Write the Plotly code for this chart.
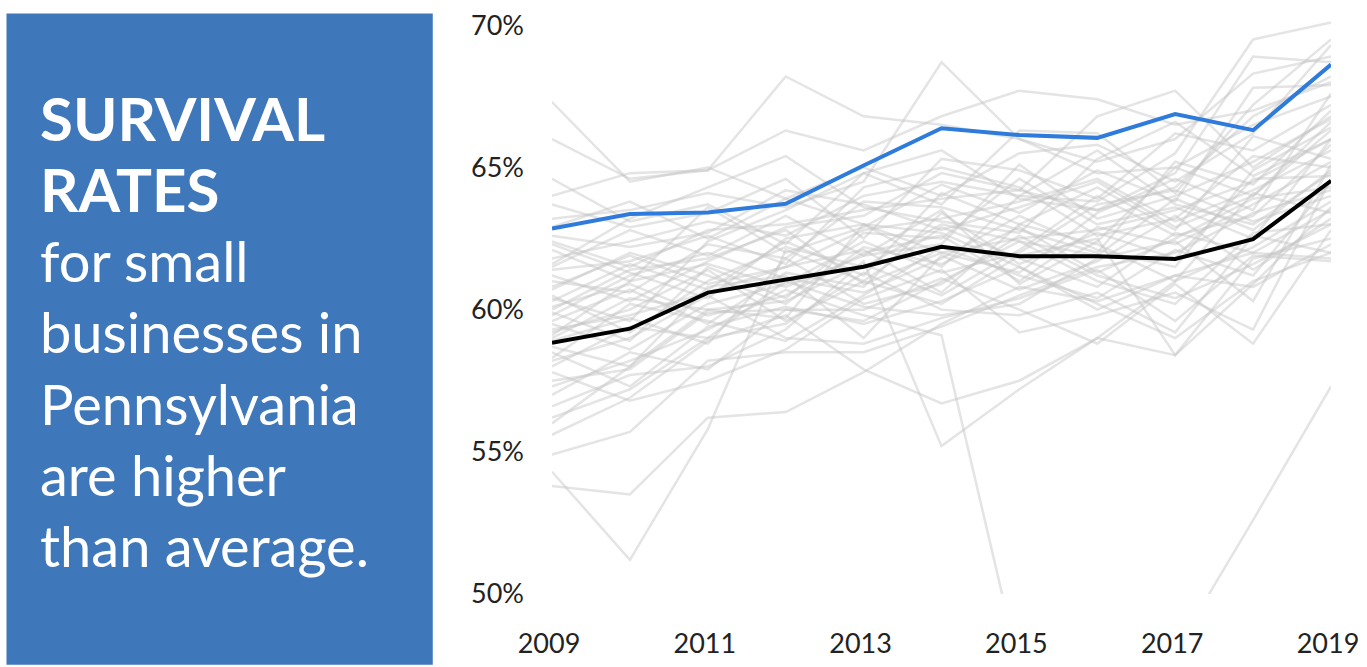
import plotly.graph_objects as go

years = list(range(2009, 2020))

pennsylvania = [62.85, 63.36, 63.42, 63.72, 65.07, 66.38, 66.14, 66.04, 66.88, 66.31, 68.62]
average = [58.83, 59.33, 60.60, 61.04, 61.51, 62.21, 61.88, 61.88, 61.78, 62.48, 64.53]

other_states = [
    [67.3, 64.5, 65.0, 63.9, 63.0, 62.0, 62.5, 62.8, 63.5, 64.5, 66.0],
    [66.0, 64.6, 64.9, 66.3, 65.6, 66.8, 67.7, 67.4, 66.5, 67.0, 68.0],
    [64.0, 64.8, 64.9, 68.2, 66.8, 66.5, 66.0, 65.2, 66.0, 68.3, 68.9],
    [63.2, 63.5, 64.1, 63.6, 64.5, 68.7, 66.0, 64.8, 65.0, 66.5, 67.5],
    [62.4, 61.5, 62.8, 63.0, 63.5, 63.9, 64.2, 66.8, 67.7, 65.0, 66.8],
    [61.8, 62.4, 63.1, 62.6, 64.0, 64.5, 64.0, 63.8, 65.5, 69.5, 70.1],
    [61.2, 60.3, 61.7, 62.9, 63.3, 64.8, 64.2, 63.5, 64.8, 68.9, 68.7],
    [60.8, 61.9, 60.9, 61.5, 62.8, 63.2, 63.8, 64.6, 63.1, 64.2, 65.6],
    [60.5, 59.2, 61.0, 62.2, 61.5, 63.0, 62.4, 61.9, 63.9, 62.8, 64.9],
    [60.1, 60.9, 59.8, 60.5, 62.0, 62.6, 61.0, 62.9, 62.3, 63.7, 65.2],
    [59.8, 61.2, 62.0, 61.1, 60.6, 61.8, 63.3, 62.1, 61.5, 64.9, 66.4],
    [59.5, 58.6, 60.2, 60.9, 62.4, 61.3, 62.0, 63.7, 64.2, 63.1, 64.0],
    [59.2, 60.0, 61.4, 59.6, 61.0, 62.9, 61.8, 60.8, 62.7, 62.0, 63.5],
    [58.9, 59.7, 58.8, 61.8, 60.2, 60.9, 62.6, 61.2, 60.4, 61.6, 63.0],
    [58.5, 57.3, 59.4, 60.1, 59.5, 60.3, 61.5, 60.0, 61.2, 60.8, 62.3],
    [58.2, 59.0, 60.5, 59.0, 58.8, 59.7, 60.4, 61.4, 59.6, 61.9, 61.7],
    [57.8, 56.8, 57.5, 58.6, 60.4, 61.4, 59.2, 59.8, 60.6, 59.3, 64.6],
    [57.3, 58.2, 59.3, 60.7, 59.8, 59.1, 47.4, 45.0, 48.0, 52.6, 57.3],
    [56.6, 57.7, 58.0, 59.3, 61.7, 55.2, 57.2, 59.0, 61.0, 62.2, 63.8],
    [55.6, 56.9, 58.9, 59.8, 57.9, 56.7, 57.5, 59.0, 58.4, 61.8, 62.5],
    [54.9, 55.7, 58.2, 58.5, 58.5, 59.4, 60.5, 61.5, 62.0, 63.4, 64.2],
    [53.8, 53.5, 56.2, 56.4, 57.8, 59.5, 60.8, 60.3, 61.2, 62.0, 61.8],
    [54.3, 51.2, 55.8, 62.1, 61.0, 60.2, 61.9, 62.5, 58.4, 60.9, 63.6],
    [63.7, 62.9, 63.4, 64.6, 62.5, 65.3, 64.9, 63.9, 66.2, 65.6, 67.2],
    [62.9, 63.8, 62.5, 63.9, 65.0, 64.0, 65.5, 65.8, 64.5, 66.2, 69.3],
    [62.1, 61.0, 63.6, 62.0, 62.9, 64.4, 63.4, 64.9, 63.8, 67.8, 67.9],
    [61.5, 62.8, 61.9, 63.3, 61.9, 62.3, 65.1, 63.2, 64.0, 65.2, 66.7],
    [61.0, 60.6, 62.3, 61.8, 63.8, 63.6, 62.8, 62.0, 65.2, 64.4, 67.0],
    [60.3, 61.6, 60.7, 62.4, 61.2, 64.1, 63.0, 64.3, 62.8, 66.1, 65.3],
    [59.9, 58.9, 61.5, 60.4, 62.7, 62.5, 64.6, 63.0, 63.6, 62.5, 66.0],
    [59.6, 60.7, 59.5, 61.3, 60.8, 63.4, 61.6, 62.7, 61.8, 64.6, 64.7],
    [59.0, 60.4, 60.0, 60.3, 61.6, 60.5, 62.1, 64.0, 62.6, 63.3, 65.8],
    [58.7, 58.0, 60.8, 61.2, 59.0, 61.9, 60.7, 61.7, 63.3, 61.4, 63.2],
    [58.0, 59.4, 59.0, 59.5, 61.3, 60.0, 59.8, 60.6, 59.2, 62.6, 62.0],
    [57.5, 57.9, 59.9, 60.0, 60.0, 61.1, 60.0, 58.8, 60.9, 58.8, 62.8],
    [60.7, 62.0, 61.2, 60.2, 62.2, 61.6, 62.9, 61.3, 62.5, 63.9, 64.3],
    [62.6, 62.2, 62.7, 64.2, 63.7, 62.8, 63.6, 64.5, 62.9, 64.0, 66.3],
    [61.4, 61.7, 62.6, 61.6, 64.3, 65.0, 64.3, 62.6, 63.2, 65.4, 65.0],
    [60.0, 61.4, 61.8, 62.8, 60.9, 62.0, 61.3, 63.4, 64.6, 63.5, 67.6],
    [59.3, 59.8, 60.6, 61.5, 62.1, 60.6, 63.0, 62.3, 61.0, 64.1, 63.4],
    [58.3, 60.2, 59.6, 58.9, 60.5, 62.2, 61.2, 60.4, 62.1, 61.2, 64.5],
    [57.0, 58.5, 57.9, 60.0, 59.6, 61.0, 62.4, 61.0, 60.2, 62.7, 63.0],
    [56.2, 57.2, 59.0, 61.0, 60.1, 59.8, 60.2, 61.8, 62.4, 60.3, 65.1],
    [64.6, 63.1, 63.7, 62.3, 64.8, 63.7, 66.3, 66.2, 64.1, 67.2, 69.5],
    [61.6, 63.2, 64.3, 65.4, 63.6, 63.1, 62.7, 65.3, 66.6, 64.7, 66.0],
    [60.4, 59.6, 62.4, 63.5, 64.8, 65.6, 63.9, 63.5, 64.3, 66.8, 68.2],
    [62.3, 61.3, 60.4, 62.5, 63.0, 61.5, 64.0, 65.6, 63.7, 63.0, 64.8],
    [59.1, 61.0, 61.6, 60.8, 61.9, 63.5, 60.9, 62.4, 65.0, 64.0, 66.6],
    [56.0, 58.0, 60.0, 59.7, 63.0, 62.7, 61.5, 60.2, 59.0, 61.0, 62.0],
]

x_ticks = [2009, 2011, 2013, 2015, 2017, 2019]
y_ticks = [50, 55, 60, 65, 70]
y_tick_text = ["50%", "55%", "60%", "65%", "70%"]

headline_bold = ["SURVIVAL", "RATES"]
headline_regular = ["for small", "businesses in", "Pennsylvania", "are higher", "than average."]

FONT = "Lato"

fig = go.Figure()
for vals in other_states:
    fig.add_trace(go.Scatter(
        x=years, y=vals, mode="lines",
        line=dict(color="rgba(195,195,195,0.45)", width=2.5),
        hoverinfo="skip", showlegend=False,
    ))
fig.add_trace(go.Scatter(x=years, y=average, mode="lines",
                         line=dict(color="#000000", width=4), showlegend=False))
fig.add_trace(go.Scatter(x=years, y=pennsylvania, mode="lines",
                         line=dict(color="#2F7BDB", width=4), showlegend=False))

W, H = 1367, 667
L, R, T, B = 552, 31, 8, 43
pw, ph = W - L - R, H - T - B

def px_x(p):
    return (p - L) / pw

def px_y(p):
    return (H - B - p) / ph

fig.add_shape(type="rect", xref="paper", yref="paper",
              x0=px_x(3), x1=px_x(432), y0=px_y(700), y1=px_y(0),
              fillcolor="#3F77BB", line=dict(width=0), layer="below")

lines = [(t, True) for t in headline_bold] + [(t, False) for t in headline_regular]
y0 = 112
step = 76.7
for i, (txt, bold) in enumerate(lines):
    fig.add_annotation(
        xref="paper", yref="paper", x=px_x(35), y=px_y(y0 + i * step),
        xanchor="left", yanchor="middle", showarrow=False,
        text=f"<b>{txt}</b>" if bold else txt,
        font=dict(family=FONT, size=60 if bold else 56, color="white"),
    )

fig.update_layout(
    width=W, height=H,
    margin=dict(l=L, r=R, t=T, b=B),
    paper_bgcolor="white", plot_bgcolor="white",
    font=dict(family=FONT, color="#222222"),
    xaxis=dict(range=[2009, 2019], tickvals=x_ticks, showgrid=False, zeroline=False,
               showline=False, ticks="", tickfont=dict(size=27, color="#222222"),
               ticklabelstandoff=31, ticklabelshift=-3, ticklabeloverflow="allow"),
    yaxis=dict(range=[50, 70.15], tickvals=y_ticks, ticktext=y_tick_text, showgrid=False,
               zeroline=False, showline=False, ticks="",
               tickfont=dict(size=27, color="#222222"), ticklabelstandoff=27,
               ticklabeloverflow="allow"),
)

pin_to_corner = (
    "var gd = document.getElementById('{plot_id}');"
    "document.documentElement.style.margin='0';"
    "document.body.style.margin='0';"
    "document.documentElement.style.overflow='hidden';"
    "document.body.style.overflow='hidden';"
    "gd.style.position='fixed';gd.style.left='0px';gd.style.top='0px';"
)

fig.write_html("out.html", post_script=pin_to_corner)
